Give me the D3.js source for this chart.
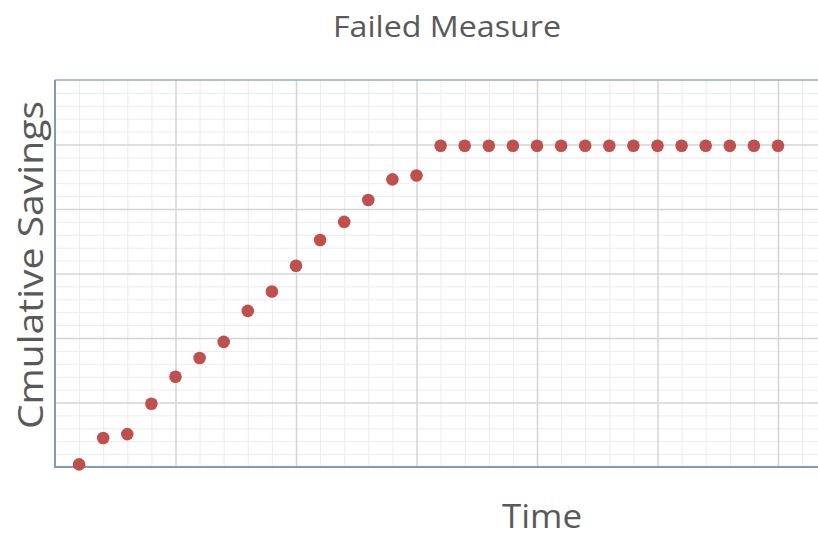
<!DOCTYPE html>
<html>
<head>
<meta charset="utf-8">
<script src="https://cdn.jsdelivr.net/npm/d3@7"></script>
<style>
	html, body { margin: 0; padding: 0; background: #fff; }
	svg { display: block; }
</style>
</head>
<body>
<div id="chart"></div>
<script>
// time step (one minor gridline apart) and cumulative savings
const timeSteps = d3.range(1, 31);
const savings = [
	0.2, 2.25, 2.55, 4.9, 7.0, 8.45, 9.7, 12.1, 13.6, 15.6,
	17.6, 19.0, 20.7, 22.3, 22.6, 24.9, 24.9, 24.9, 24.9, 24.9,
	24.9, 24.9, 24.9, 24.9, 24.9, 24.9, 24.9, 24.9, 24.9, 24.9
];
const majorX = [0, 5, 10, 15, 20, 25, 30];
const majorY = [0, 5, 10, 15, 20, 25, 30];

const chartTitle = "Failed Measure";
const xTitle = "Time";
const yTitle = "Cmulative Savings";

const
	width = 818,
	height = 537,
	plotLeft = 55,
	plotTop = 80,
	plotBottom = 467;

const data = timeSteps.map((t, i) => ({ t: t, v: savings[i] }));

const svg = d3.select("#chart")
	.append("svg")
	.attr("width", width)
	.attr("height", height);

const x = d3.scaleLinear().domain([0, 32]).range([plotLeft, plotLeft + 32 * 24.1]);
const y = d3.scaleLinear().domain([0, 30]).range([plotBottom, plotTop]);

const minorX = d3.range(0, 33).filter(d => d % 5 !== 0);
const minorY = d3.range(0, 31).filter(d => d % 5 !== 0);

// minor grid
svg.append("g")
	.attr("transform", `translate(0, ${plotBottom})`)
	.call(d3.axisBottom(x).tickValues(minorX).tickSize(-(plotBottom - plotTop)).tickFormat(""))
	.call(g => g.select(".domain").remove())
	.call(g => g.selectAll("line").attr("stroke", "#ececec").attr("stroke-width", 1));

svg.append("g")
	.attr("transform", `translate(${plotLeft}, 0)`)
	.call(d3.axisLeft(y).tickValues(minorY).tickSize(-(width - plotLeft)).tickFormat(""))
	.call(g => g.select(".domain").remove())
	.call(g => g.selectAll("line").attr("stroke", "#ececec").attr("stroke-width", 1));

// major grid
svg.append("g")
	.attr("transform", `translate(0, ${plotBottom})`)
	.call(d3.axisBottom(x).tickValues(majorX.slice(1)).tickSize(-(plotBottom - plotTop)).tickFormat(""))
	.call(g => g.select(".domain").remove())
	.call(g => g.selectAll("line").attr("stroke", "#d4d4d4").attr("stroke-width", 1.5));

svg.append("g")
	.attr("transform", `translate(${plotLeft}, 0)`)
	.call(d3.axisLeft(y).tickValues(majorY.slice(1, -1)).tickSize(-(width - plotLeft)).tickFormat(""))
	.call(g => g.select(".domain").remove())
	.call(g => g.selectAll("line").attr("stroke", "#d4d4d4").attr("stroke-width", 1.5));

// frame: top border, left and bottom axis lines
svg.append("line")
	.attr("x1", plotLeft).attr("x2", width)
	.attr("y1", y(30)).attr("y2", y(30))
	.attr("stroke", "#93abc4")
	.attr("stroke-width", 1.5);

svg.append("line")
	.attr("x1", plotLeft).attr("x2", plotLeft)
	.attr("y1", y(30)).attr("y2", plotBottom)
	.attr("stroke", "#7f9bb8")
	.attr("stroke-width", 2);

svg.append("line")
	.attr("x1", plotLeft - 1).attr("x2", width)
	.attr("y1", plotBottom).attr("y2", plotBottom)
	.attr("stroke", "#7f9bb8")
	.attr("stroke-width", 2);

// points
svg.selectAll("circle.pt")
	.data(data)
	.enter()
	.append("circle")
	.attr("class", "pt")
	.attr("cx", d => x(d.t))
	.attr("cy", d => y(d.v))
	.attr("r", 6.3)
	.attr("fill", "#c0504d");

// titles
svg.append("text")
	.attr("x", 447)
	.attr("y", 37)
	.attr("text-anchor", "middle")
	.attr("textLength", 228)
	.attr("lengthAdjust", "spacingAndGlyphs")
	.style("font-family", "'Open Sans', sans-serif")
	.style("font-size", "29px")
	.style("fill", "#595959")
	.text(chartTitle);

svg.append("text")
	.attr("x", 542)
	.attr("y", 528)
	.attr("text-anchor", "middle")
	.attr("textLength", 80)
	.attr("lengthAdjust", "spacingAndGlyphs")
	.style("font-family", "'Open Sans', sans-serif")
	.style("font-size", "33px")
	.style("fill", "#595959")
	.text(xTitle);

svg.append("text")
	.attr("transform", `translate(43, 265) rotate(-90)`)
	.attr("text-anchor", "middle")
	.attr("textLength", 328)
	.attr("lengthAdjust", "spacingAndGlyphs")
	.style("font-family", "'Open Sans', sans-serif")
	.style("font-size", "35px")
	.style("fill", "#595959")
	.text(yTitle);
</script>
</body>
</html>
